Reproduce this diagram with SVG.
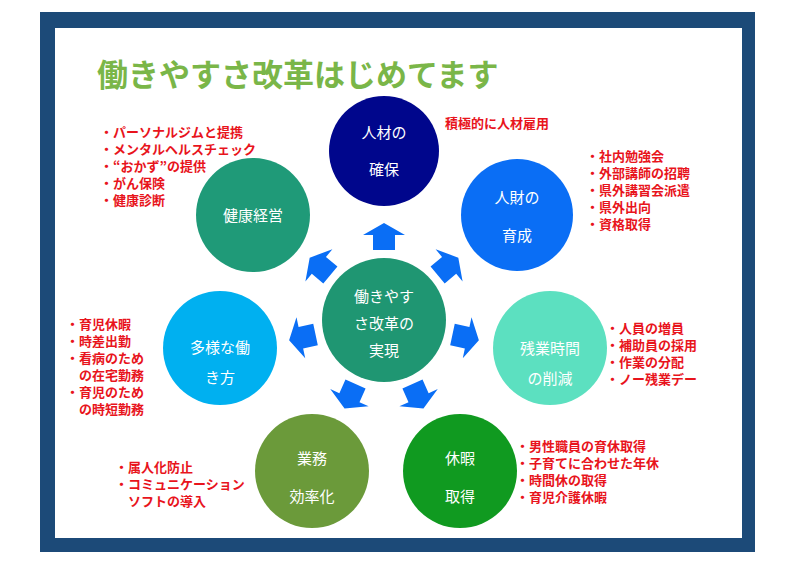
<svg xmlns="http://www.w3.org/2000/svg" width="800" height="565" viewBox="0 0 800 565">
<style>
.lbl{font-family:"Noto Sans CJK JP","Noto Sans",sans-serif;font-size:15px;fill:#fff;text-anchor:middle}
.lst{font-family:"Noto Sans CJK JP","Noto Sans",sans-serif;font-size:13px;font-weight:bold;fill:#e8141c}
.arr{fill:#0a6ef5}
</style>
<defs><polygon id="ar" points="-11,-70 -11,-85 -21,-85 0,-97 21,-85 11,-85 11,-70"/></defs>
<rect x="0" y="0" width="800" height="565" fill="#fff"/>
<rect x="40" y="12" width="715" height="540" fill="#1c4a78"/>
<rect x="55" y="28" width="687" height="510" fill="#fff"/>
<text x="97" y="86" font-family="'Noto Sans CJK JP',sans-serif" font-size="31" font-weight="bold" fill="#7ab648">働きやすさ改革はじめてます</text>
<g id="connectors" class="arr" transform="translate(384,320)">
<use href="#ar"/>
<use href="#ar" transform="rotate(50)"/>
<use href="#ar" transform="rotate(-50)"/>
<use href="#ar" transform="rotate(102)"/>
<use href="#ar" transform="rotate(-102)"/>
<use href="#ar" transform="rotate(156)"/>
<use href="#ar" transform="rotate(-156)"/>
</g>
<g id="center"><circle cx="384" cy="320" r="62" fill="#1f9672"/><text class="lbl" x="384" y="302">働きやす</text><text class="lbl" x="384" y="329">さ改革の</text><text class="lbl" x="384" y="356">実現</text></g>
<g id="n1"><circle cx="384" cy="151" r="55" fill="#00068c"/><text class="lbl" x="384" y="138">人材の</text><text class="lbl" x="384" y="175">確保</text>
<text class="lst" x="445" y="128">積極的に人材雇用</text></g>
<g id="n2"><circle cx="517" cy="215" r="56" fill="#0a6ef5"/><text class="lbl" x="517" y="203">人財の</text><text class="lbl" x="517" y="241">育成</text>
<text class="lst" x="586" y="161">・社内勉強会</text><text class="lst" x="586" y="178">・外部講師の招聘</text><text class="lst" x="586" y="195">・県外講習会派遣</text><text class="lst" x="586" y="212">・県外出向</text><text class="lst" x="586" y="229">・資格取得</text></g>
<g id="n3"><circle cx="253" cy="215" r="57" fill="#1f9a78"/><text class="lbl" x="253" y="221">健康経営</text>
<text class="lst" x="100" y="137">・パーソナルジムと提携</text><text class="lst" x="100" y="154">・メンタルヘルスチェック</text><text class="lst" x="100" y="171">・“おかず”の提供</text><text class="lst" x="100" y="188">・がん保険</text><text class="lst" x="100" y="205">・健康診断</text></g>
<g id="n4"><circle cx="220" cy="348" r="57" fill="#00b0f0"/><text class="lbl" x="220" y="353">多様な働</text><text class="lbl" x="220" y="383">き方</text>
<text class="lst" x="66" y="329">・育児休暇</text><text class="lst" x="66" y="346">・時差出勤</text><text class="lst" x="66" y="363">・看病のため</text><text class="lst" x="66" y="380">　の在宅勤務</text><text class="lst" x="66" y="397">・育児のため</text><text class="lst" x="66" y="414">　の時短勤務</text></g>
<g id="n5"><circle cx="550" cy="348" r="57" fill="#5ce0c0"/><text class="lbl" x="550" y="354">残業時間</text><text class="lbl" x="550" y="384">の削減</text>
<text class="lst" x="606" y="333">・人員の増員</text><text class="lst" x="606" y="350">・補助員の採用</text><text class="lst" x="606" y="367">・作業の分配</text><text class="lst" x="606" y="384">・ノー残業デー</text></g>
<g id="n6"><circle cx="312" cy="471" r="57" fill="#6b9a3a"/><text class="lbl" x="312" y="464">業務</text><text class="lbl" x="312" y="502">効率化</text>
<text class="lst" x="115" y="472">・属人化防止</text><text class="lst" x="115" y="489">・コミュニケーション</text><text class="lst" x="115" y="506">　ソフトの導入</text></g>
<g id="n7"><circle cx="460" cy="471" r="57" fill="#109a20"/><text class="lbl" x="460" y="464">休暇</text><text class="lbl" x="460" y="502">取得</text>
<text class="lst" x="516" y="451">・男性職員の育休取得</text><text class="lst" x="516" y="468">・子育てに合わせた年休</text><text class="lst" x="516" y="485">・時間休の取得</text><text class="lst" x="516" y="502">・育児介護休暇</text></g>
</svg>
